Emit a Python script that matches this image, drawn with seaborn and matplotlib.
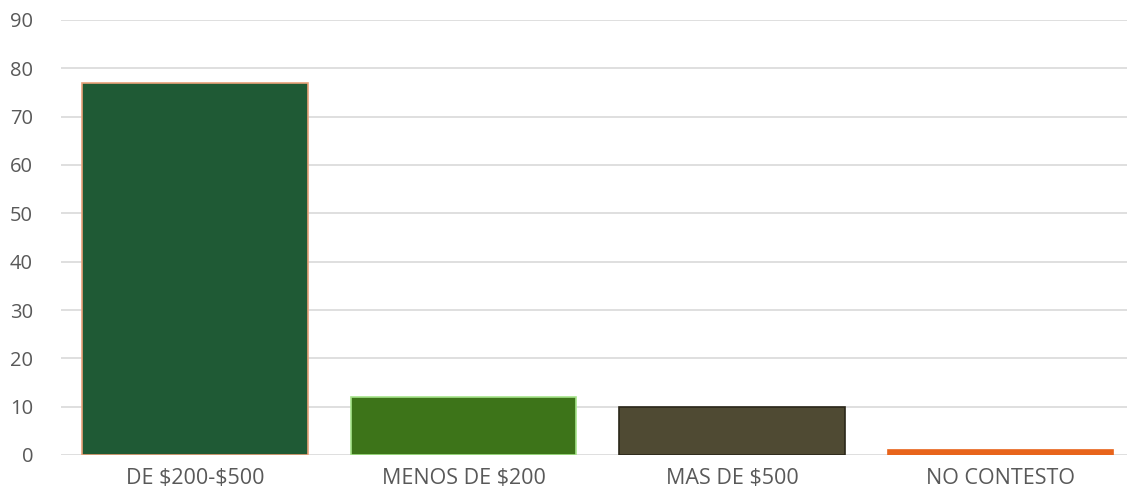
import matplotlib
matplotlib.use("Agg")
import matplotlib.pyplot as plt
import seaborn as sns
import pandas as pd

categories = ["DE $200-$500", "MENOS DE $200", "MAS DE $500", "NO CONTESTO"]
values = [77, 12, 10, 1]
colors = ["#1f5a35", "#3d7419", "#4f4a33", "#e8641b"]
edges = ["#e9a27a", "#a6e38a", "#2a2719", "#e8641b"]

sns.set_theme(style="white")
plt.rcParams["font.family"] = ["Open Sans", "DejaVu Sans"]
plt.rcParams["text.parse_math"] = False

df = pd.DataFrame({"cat": categories, "val": values})

fig = plt.figure(figsize=(11.27, 5.0), dpi=100)
ax = fig.add_axes([0.054, 0.09, 0.953, 0.87])

sns.barplot(data=df, x="cat", y="val", hue="cat", palette=colors,
            width=0.84, legend=False, ax=ax, saturation=1, zorder=3)
for p, ec in zip(ax.patches, edges):
    p.set_edgecolor(ec)
    p.set_linewidth(1.2)

ax.set_ylim(0, 90)
ax.set_yticks(range(0, 91, 10))
ax.set_xlim(-0.5, 3.5)
ax.yaxis.grid(True, color="#d9d9d9", linewidth=1.2, zorder=0)
ax.set_axisbelow(True)
for s in ax.spines.values():
    s.set_visible(False)
ax.set_xlabel("")
ax.set_ylabel("")
ax.tick_params(axis="both", length=0, colors="#595959", labelsize=14.5)
ax.tick_params(axis="x", labelsize=15.5)
ax.tick_params(axis="y", pad=20)
ax.tick_params(axis="x", pad=9)

fig.savefig("out.png", dpi=100)
